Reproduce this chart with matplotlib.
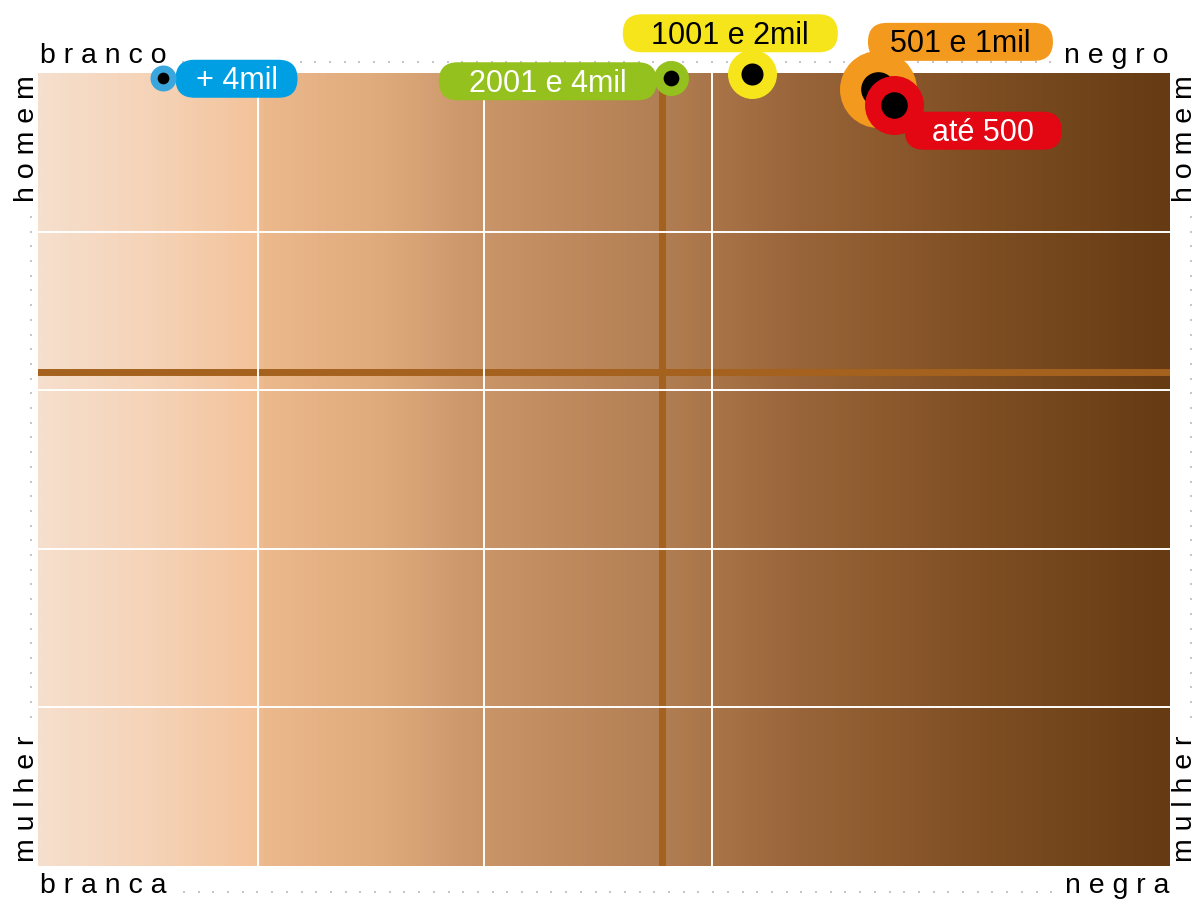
import numpy as np
import matplotlib
matplotlib.use("Agg")
import matplotlib.pyplot as plt
import matplotlib.transforms as mtransforms
from matplotlib.colors import LinearSegmentedColormap
from matplotlib.patches import FancyBboxPatch

# ---- data -------------------------------------------------------------
faixas = ["+ 4mil", "2001 e 4mil", "1001 e 2mil", "501 e 1mil", "até 500"]
cor_pele = [11.0, 55.9, 63.1, 74.2, 75.6]     # 0 = branco(a), 100 = negro(a)
genero = [99.4, 99.4, 99.9, 98.0, 96.0]       # 0 = mulher, 100 = homem
peso = [1.69, 3.06, 6.00, 14.82, 8.70]        # relative weight of each income band
media_cor = 55.1
media_genero = 62.3
grade_x = [19.4, 39.4, 59.5]
grade_y = [20, 40, 60, 80]

# ---- styles -----------------------------------------------------------
cores_bolha = ["#3aa6de", "#95c11f", "#f7e51c", "#f3991d", "#e30613"]
cores_caixa = ["#009fe3", "#95c11f", "#f7e51c", "#f3991d", "#e30613"]
cores_texto = ["white", "white", "black", "black", "white"]
# label pill: centre offset from bubble (px, y up) and width (px)
caixas = [(74, -1, 122), (-123, -3.5, 218), (-22, 40.5, 215),
          (82.5, 47, 185), (89.5, -26, 157)]
ALTURA_CAIXA = 38
FONTE = "Liberation Sans"

W, H, DPI = 1198, 902, 100
fig = plt.figure(figsize=(W / DPI, H / DPI), dpi=DPI)

# decoration layer in pixel coordinates
bg = fig.add_axes([0, 0, 1, 1], zorder=0)
bg.set_xlim(0, W)
bg.set_ylim(H, 0)
bg.axis("off")

# main plot area
x0, x1, y0, y1 = 38, 1170, 73, 866
ax = fig.add_axes([x0 / W, (H - y1) / H, (x1 - x0) / W, (y1 - y0) / H], zorder=1)
ax.set_xlim(0, 100)
ax.set_ylim(0, 100)
ax.axis("off")
ax.patch.set_visible(False)

# skin-tone gradient background
paradas = [
    (38, (246, 223, 205)), (150, (245, 211, 183)), (255, (243, 195, 155)),
    (262, (236, 185, 141)), (380, (223, 170, 123)), (480, (201, 149, 105)),
    (540, (194, 141, 97)), (660, (178, 126, 83)), (720, (167, 115, 71)),
    (800, (153, 100, 57)), (950, (131, 82, 38)), (1170, (102, 59, 19)),
]
cmap = LinearSegmentedColormap.from_list(
    "pele", [((p - x0) / (x1 - x0), tuple(c / 255 for c in rgb)) for p, rgb in paradas])
ax.imshow(np.linspace(0, 1, 1200)[None, :], cmap=cmap, aspect="auto",
          extent=(0, 100, 0, 100), origin="lower", zorder=0, interpolation="bilinear")

# average lines
cor_media = "#a5621e"
ax.axvline(media_cor, color=cor_media, lw=5, zorder=1)
ax.axhline(media_genero, color=cor_media, lw=5, zorder=1)

# white grid
for gx in grade_x:
    ax.axvline(gx, color="white", lw=1.4, zorder=2)
for gy in grade_y:
    ax.axhline(gy, color="white", lw=1.4, zorder=2)

# bubbles with labels
escala = 207.4
for i, (fx, x, y, p) in enumerate(zip(faixas, cor_pele, genero, peso)):
    dx, dy, w = caixas[i]
    z = 5 + i
    base = mtransforms.ScaledTranslation(x, y, ax.transData)
    tr = mtransforms.Affine2D().translate(dx, dy) + base
    caixa = FancyBboxPatch((-w / 2, -ALTURA_CAIXA / 2), w, ALTURA_CAIXA,
                           boxstyle=f"round,pad=0,rounding_size={ALTURA_CAIXA / 2}",
                           transform=tr, facecolor=cores_caixa[i], edgecolor="none",
                           clip_on=False, zorder=z)
    ax.add_patch(caixa)
    ax.text(0, -10.5, fx, transform=tr, ha="center", va="baseline",
            fontsize=22, family=FONTE, color=cores_texto[i], zorder=z + 0.2,
            clip_on=False)
    ax.scatter([x], [y], s=p * escala, color=cores_bolha[i], linewidths=0,
               zorder=z + 0.3, clip_on=False)
    ax.scatter([x], [y], s=p * escala * 0.2025, color="black", linewidths=0,
               zorder=z + 0.4, clip_on=False)

# axis captions
txt = dict(fontsize=20.5, family=FONTE, color="black")
bg.text(40, 63, "b r a n c o", ha="left", va="baseline", **txt)
bg.text(1169, 63, "n e g r o", ha="right", va="baseline", **txt)
bg.text(40, 893, "b r a n c a", ha="left", va="baseline", **txt)
bg.text(1169, 893, "n e g r a", ha="right", va="baseline", **txt)
for bx in (34, 1192):
    bg.text(bx, 75, "h o m e m", rotation=90, rotation_mode="anchor",
            ha="right", va="baseline", **txt)
    bg.text(bx, 862, "m u l h e r", rotation=90, rotation_mode="anchor",
            ha="left", va="baseline", **txt)

# dotted guides
cinza = "#c6c6c6"
passo = 14.7
ponto = 3.2
xs_top = np.arange(183, 1056, passo)
bg.scatter(xs_top, np.full_like(xs_top, 62), s=ponto, marker="s", color=cinza, linewidths=0)
xs_bot = np.arange(184, 1052, passo)
bg.scatter(xs_bot, np.full_like(xs_bot, 892), s=ponto, marker="s", color=cinza, linewidths=0)
ys_side = np.arange(217, 724, passo)
for sx in (31, 1191):
    bg.scatter(np.full_like(ys_side, sx), ys_side, s=ponto, marker="s", color=cinza, linewidths=0)

fig.savefig("out.png", dpi=DPI)
